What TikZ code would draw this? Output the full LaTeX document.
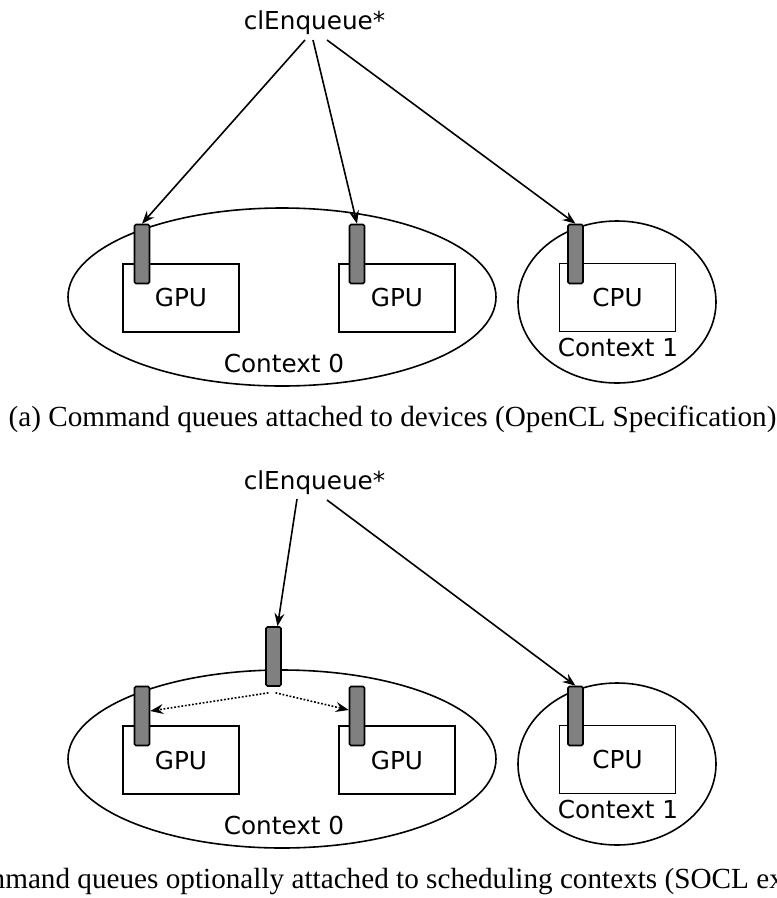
\documentclass[tikz,border=0pt]{standalone}
\usepackage{fontspec}
\setmainfont{Liberation Serif}
\newfontfamily\dvs{DejaVu Sans}
\usetikzlibrary{arrows.meta,shapes.geometric}
\definecolor{qgray}{RGB}{128,128,128}
\begin{document}
\begin{tikzpicture}[x=1pt,y=-1pt,
  lab/.style={font=\dvs\fontsize{24.7}{29}\selectfont},
  dev/.style={draw, line width=1.6pt, minimum width=116pt, minimum height=68pt, inner sep=0pt, lab},
  ctx/.style={draw, ellipse, line width=1.6pt, inner sep=0pt},
  queue/.style={draw, fill=qgray, line width=1.6pt, rounded corners=1.5pt, minimum width=15pt, minimum height=59pt, inner sep=0pt},
  arr/.style={line width=1.6pt, -{Stealth[length=13pt,width=10pt,inset=4.5pt]}},
  darr/.style={arr, dash pattern=on 1.8pt off 1.8pt},
  capt/.style={font=\fontsize{29.2}{34}\selectfont, anchor=base}
]
\useasboundingbox[fill=white] (0,0) rectangle (777,898);

% ---------- (a) ----------
\node[ctx, minimum width=428pt, minimum height=178pt] (ctxa0) at (282,297) {};
\node[ctx, minimum width=198pt, minimum height=162pt] (ctxa1) at (617,302) {};
\node[dev] (ga1) at (181,298) {GPU};
\node[dev] (ga2) at (397,298) {GPU};
\node[dev] (ca1) at (617.5,297.5) {CPU};
\node[lab, anchor=base] (la0) at (284,372) {Context 0};
\node[lab, anchor=base] (la1) at (618,356) {Context 1};
\node[queue] (qa1) at (142,254) {};
\node[queue] (qa2) at (357,254) {};
\node[queue] (qa3) at (575.5,254) {};
\node[lab, anchor=base] (enqa) at (314.5,29) {clEnqueue*};
\coordinate (sa1) at (305,40);
\coordinate (sa2) at (313,40);
\coordinate (sa3) at (327,40);
\draw[arr] (sa1) -- (qa1.north);
\draw[arr] (sa2) -- (qa2.north);
\draw[arr] (sa3) -- (qa3.north);
\node[capt] (capa) at (392.5,426) {(a) Command queues attached to devices (OpenCL Specification)};

% ---------- (b) ----------
\node[ctx, minimum width=428pt, minimum height=178pt] (ctxb0) at (282,759) {};
\node[ctx, minimum width=198pt, minimum height=162pt] (ctxb1) at (617,764) {};
\node[dev] (gb1) at (181,760) {GPU};
\node[dev] (gb2) at (397,760) {GPU};
\node[dev] (cb1) at (617.5,759.5) {CPU};
\node[lab, anchor=base] (lb0) at (284,834) {Context 0};
\node[lab, anchor=base] (lb1) at (618,818) {Context 1};
\node[queue] (qb1) at (142,716) {};
\node[queue] (qb2) at (357,716) {};
\node[queue] (qb3) at (575.5,716) {};
\node[queue] (qbm) at (273.5,656.5) {};
\node[lab, anchor=base] (enqb) at (314.5,489) {clEnqueue*};
\coordinate (sb1) at (297,499);
\coordinate (sb2) at (327,500);
\draw[arr] (sb1) -- ([xshift=4pt]qbm.north);
\draw[arr] (sb2) -- (qb3.north);
\draw[darr] ([xshift=-5pt,yshift=-6pt]qbm.south) -- ([yshift=5pt]qb1.east);
\draw[darr] ([xshift=2pt,yshift=-6pt]qbm.south) -- ([yshift=6pt]qb2.west);
\node[capt] (capb) at (392.5,888) {(b) Command queues optionally attached to scheduling contexts (SOCL extension)};
\end{tikzpicture}
\end{document}
